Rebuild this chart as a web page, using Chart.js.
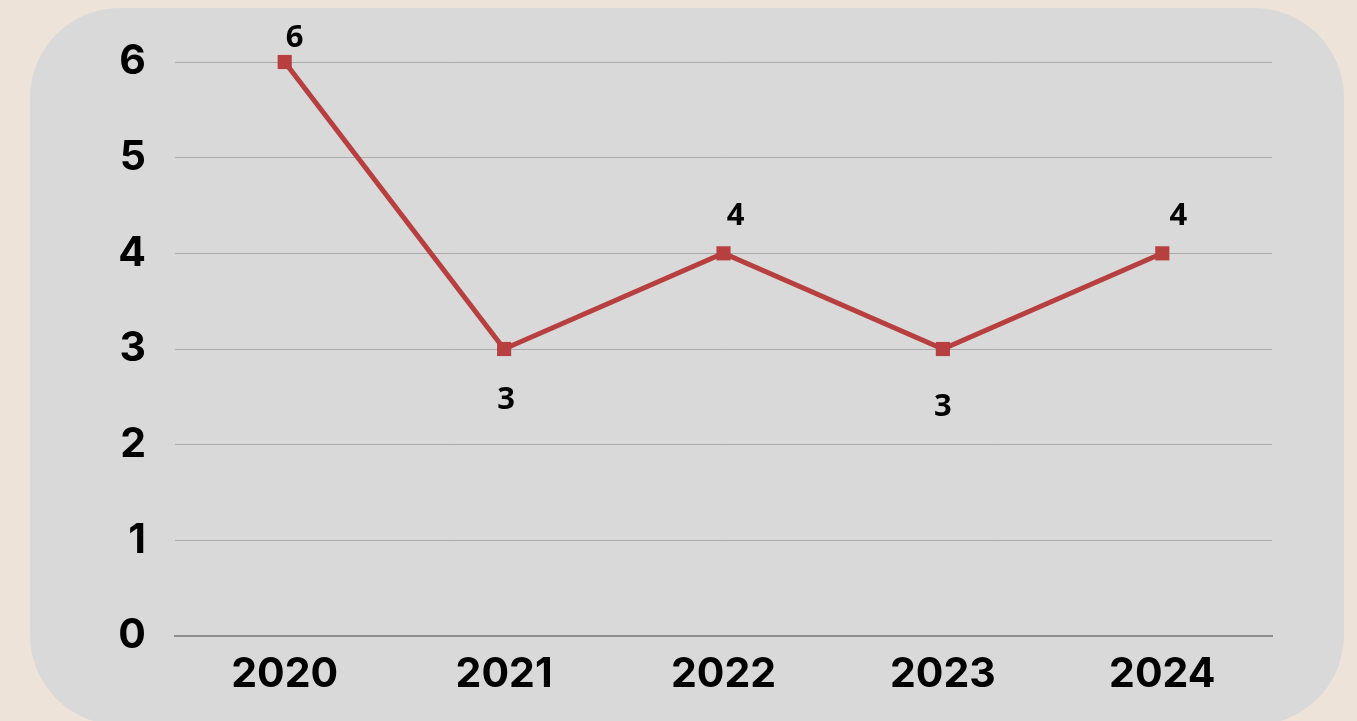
<!DOCTYPE html>
<html>
<head>
<meta charset="utf-8">
<script src="https://cdn.jsdelivr.net/npm/chart.js@4"></script>
<style>
  html, body { margin: 0; padding: 0; background: #ede3d8; }
  #wrap { width: 1357px; height: 721px; }
</style>
</head>
<body>
<div id="wrap"><canvas id="chart" width="1357" height="721"></canvas></div>
<script>
// data
const years = ['2020', '2021', '2022', '2023', '2024'];
const counts = [6, 3, 4, 3, 4];
const yTicks = [0, 1, 2, 3, 4, 5, 6];

// label offsets (px) for each point value label, as in the picture
const labelDx = [10, 2, 12, 0, 16];
const labelDy = [-24, 51, -37, 58, -37];

// grey rounded panel behind the chart
const panelBg = {
  id: 'panelBg',
  beforeDraw(chart) {
    const ctx = chart.ctx;
    ctx.save();
    ctx.fillStyle = '#ede3d8';
    ctx.fillRect(0, 0, chart.width, chart.height);
    ctx.fillStyle = '#d9d9d9';
    ctx.beginPath();
    ctx.roundRect(30, 8, 1314, 717, 90);
    ctx.fill();
    ctx.restore();
  }
};

// value labels next to points
const valueLabels = {
  id: 'valueLabels',
  afterDatasetsDraw(chart) {
    const ctx = chart.ctx;
    const meta = chart.getDatasetMeta(0);
    ctx.save();
    ctx.font = 'bold 31px "Noto Sans", sans-serif';
    ctx.fillStyle = '#000';
    ctx.textAlign = 'center';
    ctx.textBaseline = 'middle';
    meta.data.forEach((pt, i) => {
      ctx.fillText(String(counts[i]), pt.x + labelDx[i], pt.y + labelDy[i]);
    });
    ctx.restore();
  }
};

const tickFont = { family: 'Inter, "Liberation Sans", sans-serif', size: 41, weight: 'bold' };

new Chart(document.getElementById('chart'), {
  type: 'line',
  data: {
    labels: years,
    datasets: [{
      data: counts,
      borderColor: '#b73f3f',
      backgroundColor: '#b73f3f',
      borderWidth: 5,
      pointStyle: 'rect',
      pointRadius: 10,
      pointHoverRadius: 10,
      pointBorderWidth: 0,
      tension: 0,
      clip: false
    }]
  },
  options: {
    responsive: false,
    animation: false,
    layout: { padding: { top: 62, right: 85, left: 0, bottom: 0 } },
    plugins: { legend: { display: false }, tooltip: { enabled: false } },
    scales: {
      x: {
        offset: true,
        grid: { display: false, drawTicks: false },
        border: { display: true, color: '#8c8c8c', width: 2 },
        ticks: { color: '#000', padding: 14, font: tickFont },
        afterFit(s) { s.height = 85; }
      },
      y: {
        min: 0,
        max: 6,
        afterBuildTicks(s) { s.ticks = yTicks.map(v => ({ value: v })); },
        grid: { color: '#ababab', lineWidth: 1, drawTicks: false },
        border: { display: false },
        ticks: { color: '#000', padding: 29, font: tickFont },
        afterFit(s) { s.width = 175; }
      }
    }
  },
  plugins: [panelBg, valueLabels]
});
</script>
</body>
</html>
